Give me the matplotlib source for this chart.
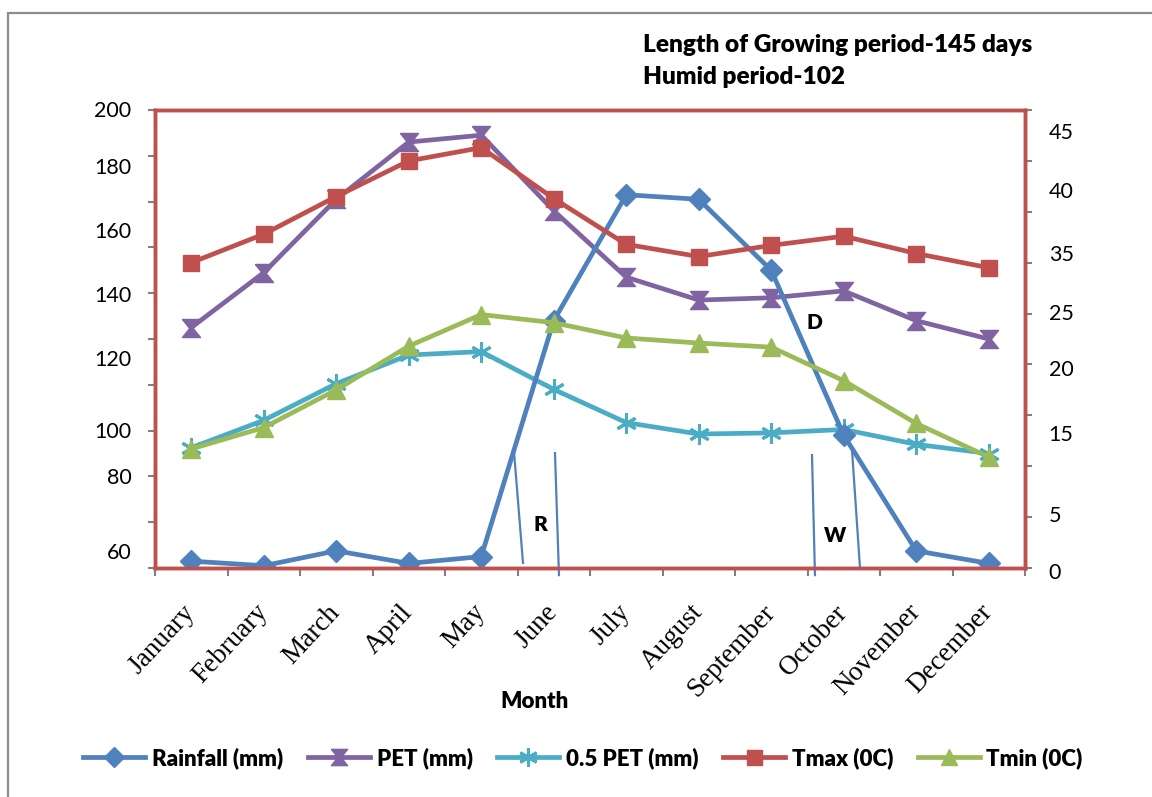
import numpy as np
import matplotlib.pyplot as plt
from matplotlib.patches import Rectangle

months = ['January', 'February', 'March', 'April', 'May', 'June', 'July',
          'August', 'September', 'October', 'November', 'December']

# left axis (mm)
rainfall = [3, 1, 7.5, 2, 5, 108, 163, 161, 130, 58, 7.5, 2]
pet = [105, 129, 161, 186, 189, 156, 127, 117, 118, 121, 108, 100]
half_pet = [52.5, 64.5, 80.5, 93, 94.5, 78, 63.5, 58.5, 59, 60.5, 54, 50]

# right axis (deg C)
tmax = [30.0, 32.8, 36.5, 40.0, 41.3, 36.3, 31.8, 30.6, 31.7, 32.6, 30.9, 29.5]
tmin = [11.7, 13.8, 17.5, 21.8, 24.9, 24.1, 22.6, 22.1, 21.7, 18.4, 14.2, 10.9]

# hand placed axis labels (text, position on the axis scale)
left_labels = ['200', '180', '160', '140', '120', '100', '80', '60']
left_label_pos = [199.6, 174.7, 146.7, 118.8, 90.8, 59.4, 39.3, 6.6]
right_labels = ['45', '40', '35', '25', '20', '15', '5', '0']
right_label_pos = [42.7, 36.9, 30.8, 25.0, 19.5, 13.1, 5.1, -0.5]

blue = '#4F81BD'
purple = '#8064A2'
aqua = '#4BACC6'
red = '#C0504D'
green = '#9BBB59'

plt.rcParams['font.family'] = ['Lato', 'DejaVu Sans']
bold = dict(family=['Lato', 'DejaVu Sans'], fontweight='heavy')

fig = plt.figure(figsize=(11.52, 7.97), dpi=100)
ax = fig.add_axes([155 / 1152, 1 - 568 / 797, 870 / 1152, 458 / 797])
ax2 = ax.twinx()

x = np.arange(len(months))
hourglass = [(-1, 1), (1, 1), (0.2, 0), (1, -1), (-1, -1), (-0.2, 0), (-1, 1)]

l1, = ax.plot(x, rainfall, color=blue, lw=3.4, marker='D', ms=11, label='Rainfall (mm)', zorder=5)
l2, = ax.plot(x, pet, color=purple, lw=3.4, marker=hourglass, ms=13, label='PET (mm)', zorder=4)
l3, = ax.plot(x, half_pet, color=aqua, lw=3.4, marker=(6, 2, 0), ms=15, mew=2.2,
              label='0.5 PET (mm)', zorder=4)
l4, = ax2.plot(x, tmax, color=red, lw=3.4, marker='s', ms=12, label='Tmax (0C)', zorder=4)
l5, = ax2.plot(x, tmin, color=green, lw=3.4, marker='^', ms=13, label='Tmin (0C)', zorder=4)

ax.set_xlim(-0.5, 11.5)
ax.set_ylim(0, 200)
ax2.set_ylim(0, 45)

# category boundaries get the tick marks, centres get the names
ax.set_xticks(np.arange(-0.5, 12, 1))
ax.set_xticklabels([])
ax.set_xticks(x, minor=True)
ax.set_xticklabels(months, minor=True, rotation=47, ha='right', va='center',
                   rotation_mode='anchor', fontsize=19.5, family='Liberation Serif')
ax.tick_params(axis='x', which='major', length=6, color='#808080', width=1.5)
ax.tick_params(axis='x', which='minor', length=0, pad=29)

ax.set_yticks(np.arange(0, 201, 20))
ax.set_yticklabels([])
ax.tick_params(axis='y', length=5, color='#808080', width=1.5)
ax2.set_yticks(np.arange(0, 46, 5))
ax2.set_yticklabels([])
ax2.tick_params(axis='y', length=5, color='#808080', width=1.5)

for lbl, v in zip(left_labels, left_label_pos):
    ax.annotate(lbl, xy=(0, v), xycoords=ax.get_yaxis_transform(), xytext=(-17, 0),
                textcoords='offset points', ha='right', va='center', fontsize=15.5,
                annotation_clip=False)
for lbl, v in zip(right_labels, right_label_pos):
    ax2.annotate(lbl, xy=(1, v), xycoords=ax2.get_yaxis_transform(), xytext=(17, 0),
                 textcoords='offset points', ha='left', va='center', fontsize=15.5,
                 annotation_clip=False)

for a in (ax, ax2):
    for s in a.spines.values():
        s.set_color(red)
        s.set_linewidth(2.5)

# rise (R) and withdrawal (W) of the rainy season, deficit (D)
ax.plot([4.452, 4.576], [50.7, 2.2], color=blue, lw=1.6, clip_on=False, zorder=6)
ax.plot([5.017, 5.072], [50.2, -3.1], color=blue, lw=1.6, clip_on=False, zorder=6)
ax.plot([8.562, 8.603], [49.3, -3.1], color=blue, lw=1.6, clip_on=False, zorder=6)
ax.plot([9.114, 9.224], [51.5, 0], color=blue, lw=1.6, clip_on=False, zorder=6)
ax.text(4.81, 19.2, 'R', fontsize=15, ha='center', va='center', **bold)
ax.text(8.88, 14.0, 'W', fontsize=15, ha='center', va='center', **bold)
ax.text(8.60, 107, 'D', fontsize=15, ha='center', va='center', **bold)

fig.text(643 / 1152, 1 - 45 / 797, 'Length of Growing period-145 days',
         fontsize=17.6, ha='left', va='center', **bold)
fig.text(643 / 1152, 1 - 77 / 797, 'Humid period-102',
         fontsize=17.6, ha='left', va='center', **bold)
fig.text(535 / 1152, 1 - 702 / 797, 'Month', fontsize=16, ha='center', va='center', **bold)

fig.legend(handles=[l1, l2, l3, l4, l5], loc='center', bbox_to_anchor=(583 / 1152, 1 - 758 / 797),
           ncol=5, frameon=False,
           prop={'family': ['Lato', 'DejaVu Sans'], 'weight': 'heavy', 'size': 16},
           handlelength=2.8, columnspacing=1.1, handletextpad=0.3, markerscale=0.9)

fig.patches.append(Rectangle((8 / 1152, -0.1), 2, 1.1 - 13 / 797, transform=fig.transFigure,
                             fill=False, ec='#8c8c8c', lw=1.6))

fig.savefig('out.png', dpi=100)
